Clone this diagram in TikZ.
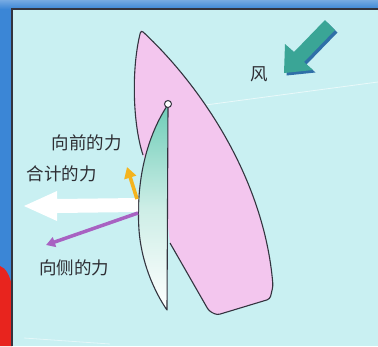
\documentclass[tikz,border=0pt]{standalone}
\usepackage{fontspec}
\newfontfamily\cjk{Noto Sans CJK SC}
\usetikzlibrary{arrows.meta}
\definecolor{panel}{HTML}{C9F0F2}
\definecolor{hullpink}{HTML}{F3C6EE}
\definecolor{outline}{HTML}{33343F}
\definecolor{windteal}{HTML}{3AA596}
\definecolor{windside}{HTML}{2F6FA8}
\definecolor{sailteal}{HTML}{6FCDB8}
\definecolor{fwd}{HTML}{F4B41E}
\definecolor{side}{HTML}{A862C2}
\definecolor{labelgray}{HTML}{2E2E34}
\definecolor{edgeblue}{HTML}{3B86D6}
\definecolor{edgered}{HTML}{E8241E}
\tikzset{
  label text/.style={font=\cjk\fontsize{17.5}{19}\selectfont, text=labelgray, inner sep=0pt},
  boat line/.style={draw=outline, line width=1.1pt, line join=round},
  force/.style={line width=#1, line cap=butt},
}
\begin{document}
\begin{tikzpicture}[x=1pt,y=-1pt]
\useasboundingbox (0,0) rectangle (378,346);

% outer strips and the light panel
\fill[edgeblue] (0,0) rectangle (378,346);
\shade[top color=edgeblue!70!white, bottom color=edgeblue] (0,0) rectangle (378,9);
\fill[edgered] (0,266) .. controls (6,268) and (10,276) .. (12,286) -- (12,346) -- (0,346) -- cycle;
\fill[panel] (12,9) rectangle (378,346);
\draw[outline, line width=1.4pt] (12,346) -- (12,9) -- (378,9);

% faint reflections on the water
\draw[white, opacity=0.6, line width=0.8pt] (168,110) -- (378,82);
\draw[white, opacity=0.5, line width=0.8pt] (24,338) -- (110,344);

% hull
\coordinate (bow) at (141,30);
\coordinate (stern) at (273,286);
\fill[hullpink] (bow) .. controls (200,85) and (264,178) .. (stern)
  -- (270,299) -- (217,315) -- (209,311) -- (170,243) -- (165,200) -- (143,155)
  .. controls (133,125) and (131,70) .. (bow) -- cycle;
\draw[boat line, rounded corners=3pt] (143,155) .. controls (133,125) and (131,70) .. (bow)
  .. controls (200,85) and (264,178) .. (stern)
  -- (270,299) -- (217,315) -- (209,311) -- (170,243);

% sail
\coordinate (masthead) at (168,104);
\coordinate (clew) at (167,310);
\shade[top color=sailteal, bottom color=white, middle color=sailteal!35!white]
  (167,106) .. controls (145,140) and (136,185) .. (139,230)
  .. controls (142,270) and (160,300) .. (clew) -- (168,106) -- cycle;
\draw[boat line] (167,106) .. controls (145,140) and (136,185) .. (139,230)
  .. controls (142,270) and (160,300) .. (clew) -- (168,107);
\node[circle, draw=outline, fill=white, line width=1pt, minimum size=7pt, inner sep=0pt] (mast) at (masthead) {};

% force arrows starting at the sail
\coordinate (fwdfoot) at (137,199);
\coordinate (fwdtip) at (127,167);
\coordinate (sidefoot) at (138,213);
\coordinate (sidetip) at (46,245);
\coordinate (resfoot) at (138,205);
\coordinate (restip) at (24,206);
\fill[white] (restip) -- (57,191) -- (57,199) -- (138,198) -- (138,212) -- (57,213) -- (57,221) -- cycle;
\draw[force=3.5pt, side, -{Triangle[width=10pt,length=9pt]}] (sidefoot) -- (sidetip);
\draw[force=3.6pt, fwd, -{Triangle[width=12pt,length=11pt]}] (fwdfoot) -- (fwdtip);

% wind arrow with a darker side
\begin{scope}[shift={(2.5,2.5)}]
\fill[windside] (284,73) -- (313,70) -- (304,62) -- (335,30) -- (325,20) -- (294,52) -- (285,44) -- cycle;
\end{scope}
\fill[windteal] (284,73) -- (313,70) -- (304,62) -- (335,30) -- (325,20) -- (294,52) -- (285,44) -- cycle;

% labels
\node[label text] (lfwd) at (87,143) {向前的力};
\node[label text] (lres) at (62,174) {合计的力};
\node[label text] (lside) at (74,268) {向侧的力};
\node[label text] (lwind) at (259,74) {风};
\end{tikzpicture}
\end{document}
